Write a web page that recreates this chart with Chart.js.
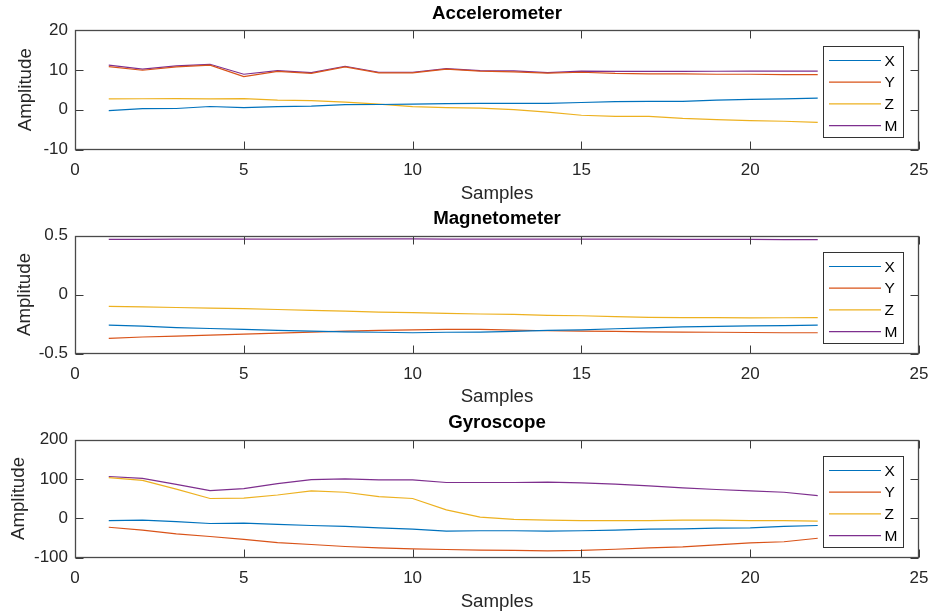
<!DOCTYPE html>
<html>
<head>
<meta charset="utf-8">
<script src="https://cdn.jsdelivr.net/npm/chart.js@4.4.1/dist/chart.umd.min.js"></script>
<style>
  html, body { margin: 0; padding: 0; background: #fff; }
  body { width: 932px; height: 615px; position: relative; overflow: hidden; }
  .panel { position: absolute; left: 0; width: 932px; height: 205px; }
</style>
</head>
<body>
<div class="panel" style="top:0px"><canvas id="c1" width="932" height="205"></canvas></div>
<div class="panel" style="top:206px"><canvas id="c2" width="932" height="205"></canvas></div>
<div class="panel" style="top:410px"><canvas id="c3" width="932" height="205"></canvas></div>
<script>
// ---------------- data ----------------
const samples = [1, 2, 3, 4, 5, 6, 7, 8, 9, 10, 11, 12, 13, 14, 15, 16, 17, 18, 19, 20, 21, 22];
const seriesNames = ['X', 'Y', 'Z', 'M'];
const xTicks = [0, 5, 10, 15, 20, 25];

const accX = [-0.25, 0.25, 0.3, 0.8, 0.5, 0.75, 0.9, 1.25, 1.3, 1.4, 1.5, 1.6, 1.6, 1.6, 1.8, 2.0, 2.1, 2.1, 2.4, 2.6, 2.7, 2.9];
const accY = [10.8, 9.9, 10.75, 11.2, 8.3, 9.6, 9.1, 10.75, 9.25, 9.25, 10.2, 9.7, 9.5, 9.2, 9.4, 9.1, 9.0, 9.0, 8.9, 8.9, 8.8, 8.8];
const accZ = [2.7, 2.75, 2.8, 2.7, 2.8, 2.4, 2.25, 1.9, 1.4, 0.75, 0.5, 0.4, 0.0, -0.6, -1.4, -1.7, -1.7, -2.2, -2.5, -2.75, -2.9, -3.2];
const accM = [11.2, 10.2, 11.0, 11.4, 8.9, 9.8, 9.3, 10.9, 9.4, 9.4, 10.3, 9.8, 9.75, 9.3, 9.7, 9.6, 9.6, 9.6, 9.65, 9.7, 9.7, 9.7];
const accTicks = [-10, 0, 10, 20];

const magX = [-0.26, -0.268, -0.28, -0.288, -0.296, -0.304, -0.31, -0.316, -0.32, -0.324, -0.32, -0.318, -0.313, -0.304, -0.30, -0.29, -0.282, -0.274, -0.27, -0.265, -0.263, -0.26];
const magY = [-0.372, -0.36, -0.352, -0.344, -0.335, -0.327, -0.318, -0.31, -0.304, -0.299, -0.296, -0.296, -0.302, -0.307, -0.31, -0.313, -0.316, -0.318, -0.32, -0.322, -0.324, -0.324];
const magZ = [-0.10, -0.105, -0.11, -0.115, -0.12, -0.127, -0.134, -0.14, -0.15, -0.154, -0.16, -0.165, -0.168, -0.176, -0.18, -0.187, -0.193, -0.196, -0.196, -0.198, -0.197, -0.196];
const magM = [0.468, 0.468, 0.469, 0.47, 0.47, 0.47, 0.47, 0.471, 0.471, 0.471, 0.47, 0.47, 0.47, 0.47, 0.47, 0.469, 0.469, 0.468, 0.467, 0.467, 0.466, 0.466];
const magTicks = [-0.5, 0, 0.5];

const gyroX = [-6, -5, -9, -13.5, -12.7, -16, -18.6, -21, -24.6, -28, -33, -32, -32, -33, -32, -30.5, -28, -27, -25.4, -24.6, -21, -18.6];
const gyroY = [-23, -30.5, -40, -46.6, -54, -62, -67, -72, -75.4, -78, -79.7, -81.4, -82, -83, -82, -79, -75.4, -73, -68, -62.7, -60, -51];
const gyroZ = [103, 96, 74, 50, 51, 59, 69.5, 66, 55, 50, 21, 2.5, -3, -5, -6, -6, -6, -5, -5, -6, -6, -7.6];
const gyroM = [106, 101, 86, 70, 75, 88, 98, 100, 97.5, 97.5, 90.7, 90.7, 90.7, 91.5, 90, 86.4, 82, 77, 73, 69.5, 66, 57.6];
const gyroTicks = [-100, 0, 100, 200];

// ---------------- styling ----------------
const colors = ['#0072BD', '#D95319', '#EDB120', '#7E2F8E'];
const FONT = "'Liberation Sans', Arial, Helvetica, sans-serif";
const TXT = '#262626';

const framePlugin = {
  id: 'frame',
  afterDatasetsDraw(chart) {
    const { ctx, chartArea: a, scales } = chart;
    const xs = scales.x, ys = scales.y;
    const L = Math.round(a.left) + 0.5, R = Math.round(a.right) - 0.5;
    const T = Math.round(a.top) + 0.5, B = Math.round(a.bottom) - 0.5;
    ctx.save();
    ctx.strokeStyle = '#3a3a3a';
    ctx.lineWidth = 1;
    const tl = 8;
    ctx.beginPath();
    xs.ticks.forEach(t => {
      const px = Math.round(xs.getPixelForValue(t.value)) + 0.5;
      ctx.moveTo(px, B); ctx.lineTo(px, B - tl);
      ctx.moveTo(px, T); ctx.lineTo(px, T + tl);
    });
    ys.ticks.forEach(t => {
      const py = Math.round(ys.getPixelForValue(t.value)) + 0.5;
      ctx.moveTo(L, py); ctx.lineTo(L + tl, py);
      ctx.moveTo(R, py); ctx.lineTo(R - tl, py);
    });
    ctx.stroke();
    ctx.lineWidth = 1.3;
    ctx.strokeStyle = '#4a4a4a';
    ctx.strokeRect(L, T, R - L, B - T);

    // legend box (MATLAB style, north-east inside)
    const bw = 80, bh = 91;
    const bx = Math.round(a.right - 16.5 - bw) + 0.5;
    const by = Math.round(a.top + 16) + 0.5;
    ctx.fillStyle = '#ffffff';
    ctx.fillRect(bx, by, bw, bh);
    ctx.strokeStyle = '#333333';
    ctx.lineWidth = 1;
    ctx.strokeRect(bx, by, bw, bh);
    ctx.font = '15.5px ' + FONT;
    ctx.textBaseline = 'middle';
    ctx.textAlign = 'left';
    chart.data.datasets.forEach((ds, i) => {
      const yy = by + 14 + i * 21.7;
      ctx.strokeStyle = ds.borderColor;
      ctx.lineWidth = 1.2;
      ctx.beginPath();
      ctx.moveTo(bx + 5.5, yy); ctx.lineTo(bx + 57.5, yy);
      ctx.stroke();
      ctx.fillStyle = '#000';
      ctx.fillText(ds.label, bx + 61, yy + 1);
    });
    ctx.restore();
  }
};

function makeChart(id, title, series, yTicks, geo) {
  const datasets = series.map((vals, i) => ({
    label: seriesNames[i],
    data: samples.map((s, k) => ({ x: s, y: vals[k] })),
    borderColor: colors[i],
    backgroundColor: colors[i],
    borderWidth: 1.2,
    pointRadius: 0,
    tension: 0,
    fill: false
  }));
  const H = 205;
  return new Chart(document.getElementById(id), {
    type: 'line',
    data: { datasets },
    plugins: [framePlugin],
    options: {
      responsive: false,
      animation: false,
      events: [],
      layout: { padding: { left: 0, right: 13, top: 0, bottom: 0 } },
      plugins: {
        legend: { display: false },
        tooltip: { enabled: false },
        title: {
          display: true,
          fullSize: false,
          text: title,
          color: '#000',
          font: { family: FONT, size: 18.7, weight: 'bold', lineHeight: 1.2 },
          padding: { top: geo.titleTop, bottom: geo.titleBottom }
        }
      },
      scales: {
        x: {
          type: 'linear',
          min: 0, max: 25,
          afterBuildTicks: s => { s.ticks = xTicks.map(v => ({ value: v })); },
          afterFit: s => { s.height = H - geo.plotBottom; s.paddingLeft = 0; s.paddingRight = 0; },
          grid: { display: false, drawTicks: false },
          border: { display: false },
          ticks: {
            color: TXT, padding: 10.5, maxRotation: 0, autoSkip: false,
            font: { family: FONT, size: 17 },
            callback: v => String(v)
          },
          title: {
            display: true, text: 'Samples', color: TXT,
            font: { family: FONT, size: 18.7, lineHeight: 1.2 },
            padding: { top: 0, bottom: geo.xTitlePad }
          }
        },
        y: {
          min: yTicks[0], max: yTicks[yTicks.length - 1],
          afterBuildTicks: s => { s.ticks = yTicks.map(v => ({ value: v })); },
          afterFit: s => { s.width = 75; s.paddingTop = 0; s.paddingBottom = 0; },
          grid: { display: false, drawTicks: false },
          border: { display: false },
          ticks: {
            color: TXT, padding: 7, autoSkip: false,
            font: { family: FONT, size: 17 },
            callback: v => String(v)
          },
          title: {
            display: true, text: 'Amplitude', color: TXT,
            font: { family: FONT, size: 18.7, lineHeight: 1.2 },
            padding: { top: geo.yTitlePad, bottom: 0 }
          }
        }
      }
    }
  });
}

makeChart('c1', 'Accelerometer', [accX, accY, accZ, accM], accTicks,
  { titleTop: 2.8, titleBottom: 4.8, plotBottom: 149.5, xTitlePad: 0.3, yTitlePad: 14.3 });
makeChart('c2', 'Magnetometer', [magX, magY, magZ, magM], magTicks,
  { titleTop: 1.8, titleBottom: 5.3, plotBottom: 147.5, xTitlePad: 2.6, yTitlePad: 13.3 });
makeChart('c3', 'Gyroscope', [gyroX, gyroY, gyroZ, gyroM], gyroTicks,
  { titleTop: 1.8, titleBottom: 5.3, plotBottom: 147.5, xTitlePad: 2.0, yTitlePad: 7.5 });
</script>
</body>
</html>
